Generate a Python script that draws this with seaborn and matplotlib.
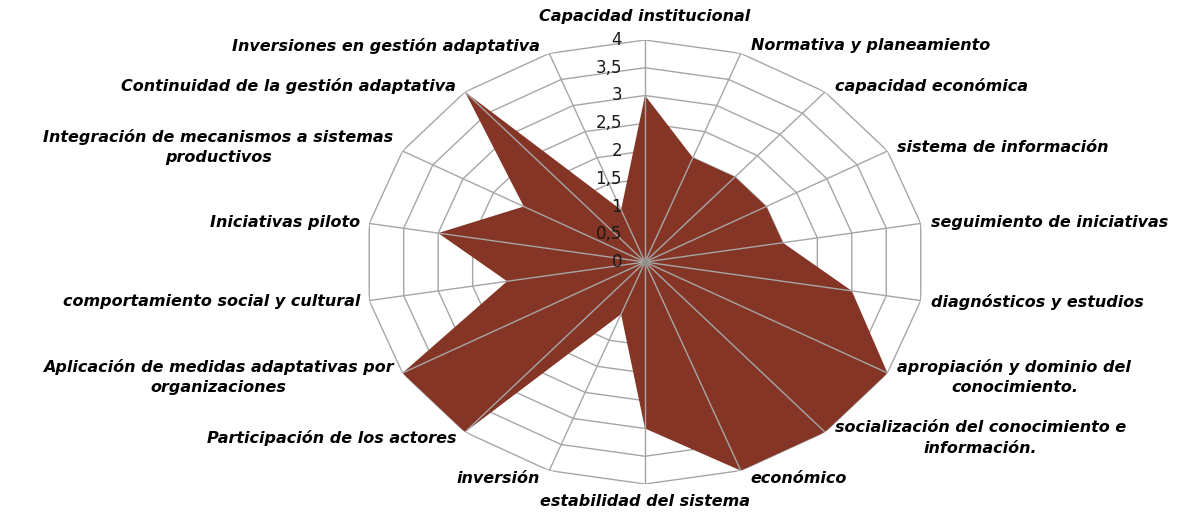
import numpy as np
import seaborn as sns
import matplotlib.pyplot as plt

# --- data ---
categories = [
    'Capacidad institucional',
    'Normativa y planeamiento',
    'capacidad económica',
    'sistema de información',
    'seguimiento de iniciativas',
    'diagnósticos y estudios',
    'apropiación y dominio del\nconocimiento.',
    'socialización del conocimiento e\ninformación.',
    'económico',
    'estabilidad del sistema',
    'inversión',
    'Participación de los actores',
    'Aplicación de medidas adaptativas por\norganizaciones',
    'comportamiento social y cultural',
    'Iniciativas piloto',
    'Integración de mecanismos a sistemas\nproductivos',
    'Continuidad de la gestión adaptativa',
    'Inversiones en gestión adaptativa',
]
values = [3, 2, 2, 2, 2, 3, 4, 4, 4, 3, 1, 4, 4, 2, 3, 2, 4, 1]
levels = [0, 0.5, 1, 1.5, 2, 2.5, 3, 3.5, 4]
level_labels = ['0', '0,5', '1', '1,5', '2', '2,5', '3', '3,5', '4']

FILL = '#853525'
GRID = '#A6A6A6'

sns.set_theme(style='white')
plt.rcParams['font.family'] = ['DejaVu Sans']

n = len(categories)
theta = np.linspace(0, 2 * np.pi, n, endpoint=False)
theta_c = np.append(theta, theta[0])
vals_c = np.append(values, values[0])

fig = plt.figure(figsize=(11.9, 5.12), dpi=100)
# stretched (elliptical) radar, like the original export
ax = fig.add_axes([365 / 1190, 28 / 512, 560 / 1190, 444 / 512], projection='polar')
ax.set_aspect('auto')
ax.set_theta_offset(np.pi / 2)
ax.set_theta_direction(-1)
ax.set_ylim(0, 4)
ax.grid(False)
ax.spines['polar'].set_visible(False)
ax.set_xticks([])
ax.set_yticks([])
ax.patch.set_alpha(0)

# polygon rings
for lv in levels[1:]:
    ax.plot(theta_c, [lv] * (n + 1), color=GRID, lw=1.0, zorder=1)

# data area
ax.fill(theta_c, vals_c, color=FILL, lw=0, zorder=2)

# spokes on top of the fill
for t in theta:
    ax.plot([t, t], [0, 4], color=GRID, lw=1.0, zorder=3)
ax.plot([0], [0], marker='o', ms=4, color='#909090', zorder=4)

# category labels
for t, lab in zip(theta, categories):
    s, c = np.sin(t), np.cos(t)   # s: rightwards, c: upwards
    if abs(s) < 1e-6:
        ha = 'center'
        off = (0, 23) if c > 0 else (0, -18)
    else:
        ha = 'left' if s > 0 else 'right'
        off = (10 if s > 0 else -9, 8 * c)
    ax.annotate(lab, xy=(t, 4), xytext=off, textcoords='offset pixels',
                ha=ha, va='center', multialignment='center',
                fontsize=11.5, fontweight='bold', fontstyle='italic',
                color='black', annotation_clip=False, linespacing=1.45)

# radial tick labels
for lv, lab in zip(levels, level_labels):
    ax.annotate(lab, xy=(0, lv), xytext=(-23, 0), textcoords='offset pixels',
                ha='right', va='center', fontsize=12, color='#1a1a1a',
                annotation_clip=False, zorder=5)

plt.savefig('out.png', dpi=100, facecolor='white')
